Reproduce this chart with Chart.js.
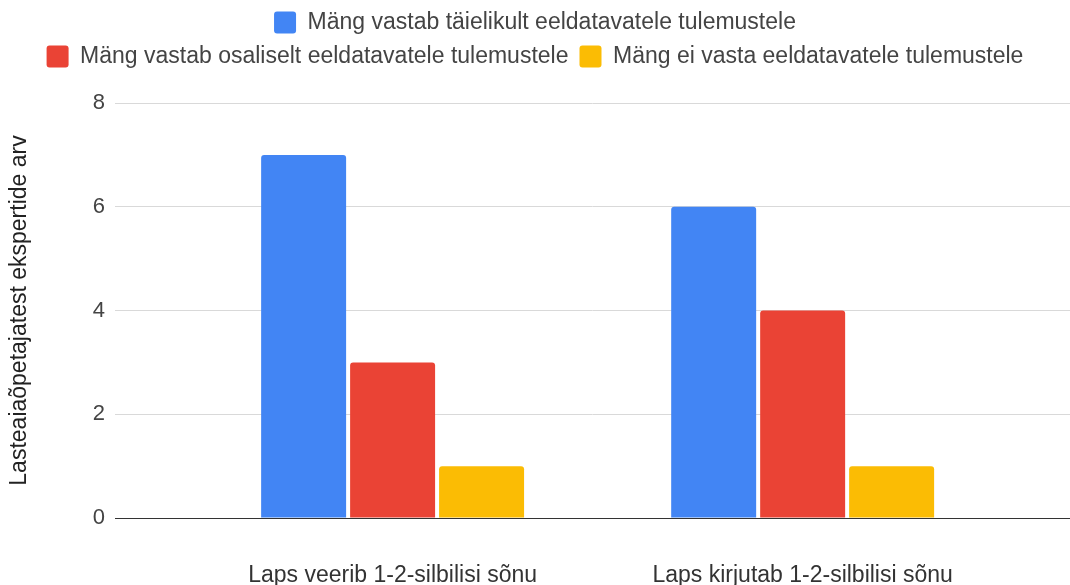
<!DOCTYPE html>
<html>
<head>
<meta charset="utf-8">
<script src="https://cdn.jsdelivr.net/npm/chart.js@4"></script>
<style>
  html, body { margin: 0; padding: 0; background: #fff; }
  #wrap { width: 1070px; height: 585px; }
</style>
</head>
<body>
<div id="wrap"><canvas id="chart"></canvas></div>
<script>
const categories = ["Laps veerib 1-2-silbilisi sõnu", "Laps kirjutab 1-2-silbilisi sõnu"];
const seriesNames = [
    "Mäng vastab täielikult eeldatavatele tulemustele",
    "Mäng vastab osaliselt eeldatavatele tulemustele",
    "Mäng ei vasta eeldatavatele tulemustele"
];
const fullValues = [7, 6];
const partialValues = [3, 4];
const noneValues = [1, 1];
const yTicks = [0, 2, 4, 6, 8];
const colors = ["#4285f4", "#ea4335", "#fbbc04"];

Chart.defaults.font.family = "'Liberation Sans', Arial, sans-serif";
Chart.defaults.color = "#444";

// bars sit on a linear x scale so the groups can keep the wide side margins
function toPoints(values) {
    return values.map((v, i) => ({ x: i, y: v }));
}

const datasets = [fullValues, partialValues, noneValues].map((vals, i) => ({
    label: seriesNames[i],
    data: toPoints(vals),
    backgroundColor: colors[i],
    borderRadius: { topLeft: 3, topRight: 3 },
    borderSkipped: "bottom",
    categoryPercentage: 0.651,
    barPercentage: 0.955
}));

// legend: wrap after the first item like the original and leave room under it
const legendLayout = {
    id: "legendLayout",
    afterInit(chart) {
        const legend = chart.legend;
        const fit = legend.fit;
        legend.fit = function () {
            const full = this.maxWidth;
            this.maxWidth = Math.min(full, 1040);
            fit.call(this);
            this.maxWidth = full;
            this.width = full;
            this.height += 25;
        };
    }
};

new Chart(document.getElementById("chart"), {
    type: "bar",
    data: { datasets },
    plugins: [legendLayout],
    options: {
        responsive: true,
        maintainAspectRatio: false,
        animation: false,
        plugins: {
            tooltip: { enabled: false },
            legend: {
                position: "top",
                labels: {
                    font: { size: 23 },
                    color: "#444",
                    boxWidth: 22,
                    boxHeight: 22,
                    useBorderRadius: true,
                    borderRadius: 3,
                    padding: 11
                }
            }
        },
        scales: {
            x: {
                type: "linear",
                offset: false,
                min: -0.677,
                max: 1.652,
                afterBuildTicks: (scale) => {
                    scale.ticks = categories.map((c, i) => ({ value: i }));
                },
                afterFit: (scale) => { scale.height = 67; },
                ticks: {
                    callback: (v) => categories[v],
                    font: { size: 23 },
                    color: "#333",
                    padding: 44,
                    maxRotation: 0,
                    autoSkip: false
                },
                grid: { display: false, drawTicks: false },
                border: { color: "#333", width: 1 }
            },
            y: {
                min: 0,
                max: 8,
                afterBuildTicks: (scale) => {
                    scale.ticks = yTicks.map((v) => ({ value: v }));
                },
                afterFit: (scale) => { scale.width = 115; },
                ticks: { font: { size: 22 }, color: "#444", padding: 10 },
                grid: {
                    color: (ctx) => (ctx.tick && ctx.tick.value === 0 ? "#333" : "#d9d9d9"),
                    drawTicks: false
                },
                border: { display: false },
                title: {
                    display: true,
                    text: "Lasteaiaõpetajatest ekspertide arv",
                    font: { size: 23 },
                    color: "#222",
                    padding: { top: 6, bottom: 0 }
                }
            }
        }
    }
});
</script>
</body>
</html>
